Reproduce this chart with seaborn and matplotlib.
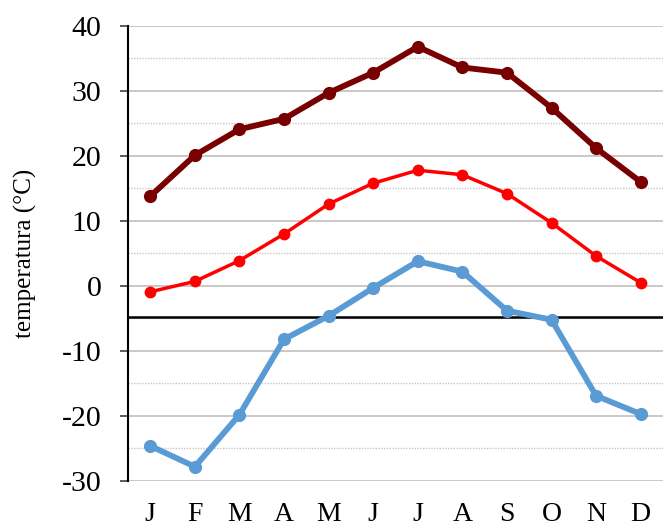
import matplotlib
matplotlib.use("Agg")
import matplotlib.pyplot as plt
from matplotlib.ticker import MultipleLocator
import numpy as np
import pandas as pd
import seaborn as sns

months = ["J", "F", "M", "A", "M", "J", "J", "A", "S", "O", "N", "D"]
t_max = [13.8, 20.1, 24.1, 25.7, 29.7, 32.8, 36.8, 33.6, 32.8, 27.4, 21.2, 16.0]
t_mean = [-0.9, 0.7, 3.9, 8.0, 12.6, 15.8, 17.8, 17.1, 14.2, 9.7, 4.6, 0.5]
t_min = [-24.6, -27.8, -19.8, -8.2, -4.6, -0.3, 3.8, 2.2, -3.8, -5.2, -16.9, -19.7]
x_axis_cross = -4.8

series_names = ["max", "mean", "min"]
series_colors = {"max": "#780000", "mean": "#FF0000", "min": "#5B9BD5"}
series_widths = {"max": 4.2, "mean": 2.5, "min": 4.2}
series_markers = {"max": 9.5, "mean": 8.5, "min": 9.5}

idx = np.arange(len(months))
df = pd.concat([
    pd.DataFrame({"m": idx, "t": vals, "s": name})
    for name, vals in zip(series_names, [t_max, t_mean, t_min])
])

sns.set_theme(style="white")
plt.rcParams["font.family"] = ["Liberation Serif", "DejaVu Serif"]
plt.rcParams["axes.unicode_minus"] = False

fig = plt.figure(figsize=(6.65, 5.28), dpi=100)
ax = fig.add_axes([0.1925, 0.089, 0.8045, 0.862])

ax.axhline(x_axis_cross, color="black", lw=1.8, zorder=2)

for name in series_names:
    sub = df[df["s"] == name]
    sns.lineplot(data=sub, x="m", y="t", ax=ax, color=series_colors[name],
                 lw=series_widths[name], marker="o", ms=series_markers[name],
                 markeredgewidth=0, zorder=3, legend=False)

ax.set_xlim(-0.5, len(months) - 0.5)
ax.set_ylim(-30, 40)
ax.yaxis.set_major_locator(MultipleLocator(10))
ax.yaxis.set_minor_locator(MultipleLocator(5))
ax.set_xticks(idx)
ax.set_xticklabels(months)

ax.grid(axis="y", which="major", color="#BFBFBF", lw=1.2, zorder=0)
ax.grid(axis="y", which="minor", color="#C8C8C8", lw=1.0, ls=(0, (1, 1)), zorder=0)
ax.grid(axis="x", visible=False)

for side in ["top", "right", "bottom"]:
    ax.spines[side].set_visible(False)
ax.spines["left"].set_color("black")
ax.spines["left"].set_linewidth(1.5)

ax.tick_params(axis="y", which="major", direction="out", length=6, width=1.2,
               color="#404040", left=True, labelsize=21.5, pad=13, labelcolor="black")
ax.tick_params(axis="y", which="minor", length=0)
ax.tick_params(axis="x", length=0, labelsize=20, pad=15, labelcolor="black")

ax.set_xlabel("")
ax.set_ylabel("temperatura (°C)", fontsize=18, color="black")
ax.yaxis.set_label_coords(-0.17, 0.5)

fig.savefig("out.png", dpi=100)
